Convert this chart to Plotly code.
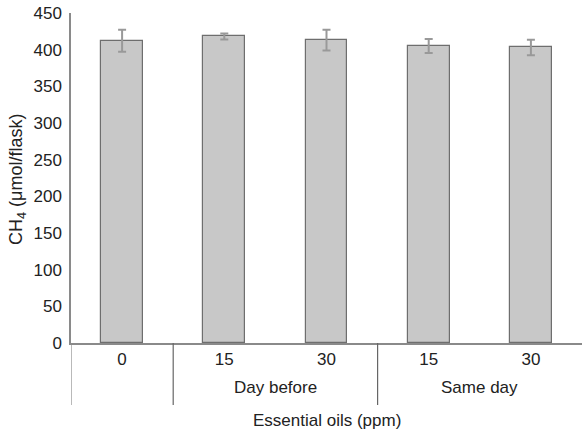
import plotly.graph_objects as go

doses = ["0", "15", "30", "15", "30"]
groups = ["", "Day before", "Day before", "Same day", "Same day"]
ch4 = [412, 418, 413, 405, 403]
err = [15, 4, 14, 9.5, 10.5]

x_idx = list(range(len(doses)))
FONT = "Liberation Sans, Arial, sans-serif"
AX = "#8a8a8a"
FS = 17

fig = go.Figure()
fig.add_trace(go.Bar(
    x=x_idx, y=ch4, width=0.41,
    marker=dict(color="#c8c8c8", line=dict(color="#6e6e6e", width=1.2)),
    error_y=dict(type="data", array=err, visible=True, color="#999999", thickness=2, width=4),
))

shapes = []
annotations = []
bounds = [-0.5]
for i in range(1, len(groups)):
    if groups[i] != groups[i - 1]:
        bounds.append(i - 0.5)
for b in bounds:
    shapes.append(dict(type="line", xref="x", yref="paper", x0=b, x1=b, y0=0, y1=-62/330,
                       line=dict(color="#666666" if b > -0.5 else AX, width=1.2)))
start = 0
for i in range(1, len(groups) + 1):
    if i == len(groups) or groups[i] != groups[start]:
        if groups[start]:
            annotations.append(dict(text=groups[start], x=(start + i - 1) / 2, xref="x",
                                    y=-45/330, yref="paper", yanchor="middle", showarrow=False,
                                    font=dict(size=FS, color="#222", family=FONT)))
        start = i

annotations.append(dict(text="Essential oils (ppm)", x=0.5, xref="paper", y=-77/330, yref="paper",
                        yanchor="middle", showarrow=False, font=dict(size=FS, color="#222", family=FONT)))
annotations.append(dict(text="CH<sub>4</sub> (μmol/flask)", x=-53/511, xref="paper", y=0.494, yref="paper",
                        xanchor="center", yanchor="middle",
                        textangle=-90, showarrow=False, font=dict(size=18, color="#222", family=FONT)))

fig.update_layout(
    width=582, height=434,
    margin=dict(l=71, r=0, t=13, b=91),
    paper_bgcolor="white", plot_bgcolor="white",
    showlegend=False,
    font=dict(family=FONT, size=FS, color="#222"),
    shapes=shapes, annotations=annotations,
    xaxis=dict(range=[-0.5, 4.5], tickvals=x_idx, ticktext=doses, showgrid=False, zeroline=False,
               showline=True, linecolor=AX, linewidth=1.5, ticks="", fixedrange=True),
    yaxis=dict(range=[0, 450], dtick=50, showgrid=False, zeroline=False, showline=True,
               linecolor=AX, linewidth=1.5, ticks="", ticklabelstandoff=4),
    bargap=0,
)

fig.write_html("out.html")
